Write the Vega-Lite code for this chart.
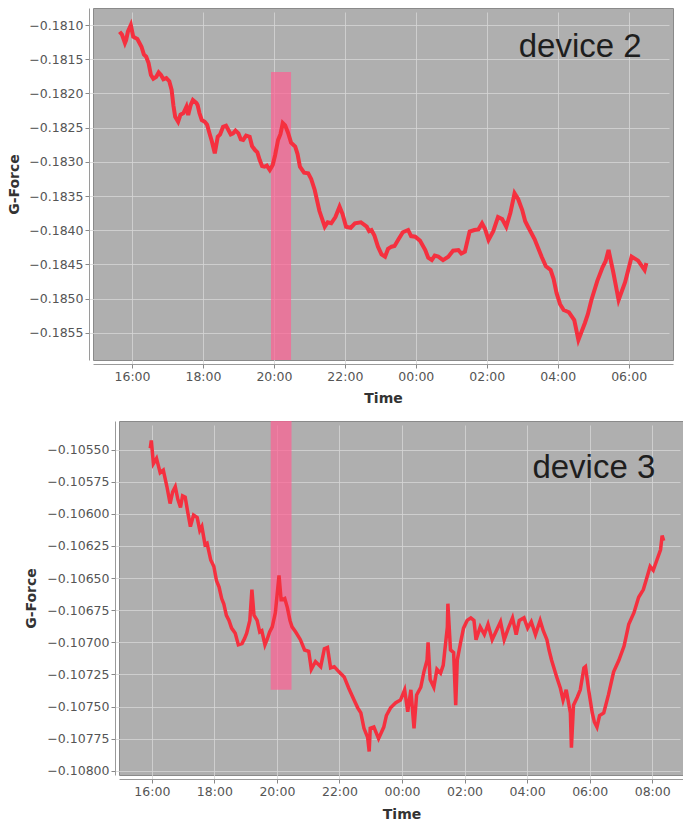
{
  "$schema": "https://vega.github.io/schema/vega-lite/v6.json",
  "padding": {"left": 7, "top": 7, "right": 0, "bottom": 0},
  "config": {
    "view": {"fill": "#afafaf", "stroke": "#8a8a8a"},
    "font": "DejaVu Sans",
    "axis": {
      "labelFont": "DejaVu Sans", "labelFontSize": 12.5, "labelColor": "#555555",
      "titleFont": "DejaVu Sans", "titleFontSize": 14, "titleFontWeight": "bold", "titleColor": "#333333",
      "gridColor": "#d6d6d6", "gridOpacity": 0.8,
      "tickColor": "#888888", "tickSize": 4, "labelPadding": 2,
      "domainColor": "#9a9a9a", "offset": 4, "labelOverlap": false
    }
  },
  "datasets": {
    "dev2": [
      {"t":"2020-01-01T15:39","g":-0.181098},{"t":"2020-01-01T15:43","g":-0.181140},{"t":"2020-01-01T15:48","g":-0.181263},{"t":"2020-01-01T15:50","g":-0.181220},
      {"t":"2020-01-01T15:53","g":-0.181098},{"t":"2020-01-01T15:58","g":-0.181000},{"t":"2020-01-01T16:02","g":-0.181171},{"t":"2020-01-01T16:09","g":-0.181204},
      {"t":"2020-01-01T16:16","g":-0.181317},{"t":"2020-01-01T16:20","g":-0.181430},{"t":"2020-01-01T16:24","g":-0.181463},{"t":"2020-01-01T16:28","g":-0.181557},
      {"t":"2020-01-01T16:32","g":-0.181731},{"t":"2020-01-01T16:36","g":-0.181784},{"t":"2020-01-01T16:41","g":-0.181756},{"t":"2020-01-01T16:45","g":-0.181694},
      {"t":"2020-01-01T16:49","g":-0.181731},{"t":"2020-01-01T16:53","g":-0.181793},{"t":"2020-01-01T16:58","g":-0.181775},{"t":"2020-01-01T17:03","g":-0.181822},
      {"t":"2020-01-01T17:07","g":-0.181950},{"t":"2020-01-01T17:10","g":-0.182176},{"t":"2020-01-01T17:13","g":-0.182341},{"t":"2020-01-01T17:18","g":-0.182414},
      {"t":"2020-01-01T17:22","g":-0.182310},{"t":"2020-01-01T17:27","g":-0.182287},{"t":"2020-01-01T17:32","g":-0.182194},{"t":"2020-01-01T17:35","g":-0.182316},
      {"t":"2020-01-01T17:39","g":-0.182176},{"t":"2020-01-01T17:43","g":-0.182097},{"t":"2020-01-01T17:49","g":-0.182140},{"t":"2020-01-01T17:51","g":-0.182173},
      {"t":"2020-01-01T17:54","g":-0.182287},{"t":"2020-01-01T17:58","g":-0.182390},{"t":"2020-01-01T18:03","g":-0.182414},{"t":"2020-01-01T18:07","g":-0.182458},
      {"t":"2020-01-01T18:11","g":-0.182583},{"t":"2020-01-01T18:15","g":-0.182700},{"t":"2020-01-01T18:20","g":-0.182876},{"t":"2020-01-01T18:25","g":-0.182633},
      {"t":"2020-01-01T18:29","g":-0.182600},{"t":"2020-01-01T18:34","g":-0.182487},{"t":"2020-01-01T18:39","g":-0.182471},{"t":"2020-01-01T18:43","g":-0.182535},
      {"t":"2020-01-01T18:47","g":-0.182599},{"t":"2020-01-01T18:51","g":-0.182583},{"t":"2020-01-01T18:55","g":-0.182543},{"t":"2020-01-01T19:00","g":-0.182583},
      {"t":"2020-01-01T19:04","g":-0.182672},{"t":"2020-01-01T19:08","g":-0.182681},{"t":"2020-01-01T19:13","g":-0.182617},{"t":"2020-01-01T19:19","g":-0.182633},
      {"t":"2020-01-01T19:23","g":-0.182770},{"t":"2020-01-01T19:28","g":-0.182828},{"t":"2020-01-01T19:32","g":-0.182861},{"t":"2020-01-01T19:36","g":-0.182974},
      {"t":"2020-01-01T19:40","g":-0.183063},{"t":"2020-01-01T19:44","g":-0.183072},{"t":"2020-01-01T19:48","g":-0.183056},{"t":"2020-01-01T19:53","g":-0.183120},
      {"t":"2020-01-01T19:58","g":-0.183047},{"t":"2020-01-01T20:02","g":-0.182904},{"t":"2020-01-01T20:07","g":-0.182681},{"t":"2020-01-01T20:11","g":-0.182597},
      {"t":"2020-01-01T20:15","g":-0.182433},{"t":"2020-01-01T20:19","g":-0.182466},{"t":"2020-01-01T20:24","g":-0.182579},{"t":"2020-01-01T20:29","g":-0.182719},
      {"t":"2020-01-01T20:36","g":-0.182779},{"t":"2020-01-01T20:40","g":-0.182886},{"t":"2020-01-01T20:44","g":-0.183072},{"t":"2020-01-01T20:51","g":-0.183160},
      {"t":"2020-01-01T20:58","g":-0.183168},{"t":"2020-01-01T21:03","g":-0.183250},{"t":"2020-01-01T21:09","g":-0.183412},{"t":"2020-01-01T21:17","g":-0.183720},
      {"t":"2020-01-01T21:26","g":-0.183949},{"t":"2020-01-01T21:31","g":-0.183884},{"t":"2020-01-01T21:37","g":-0.183899},{"t":"2020-01-01T21:44","g":-0.183808},
      {"t":"2020-01-01T21:51","g":-0.183656},{"t":"2020-01-01T21:56","g":-0.183763},{"t":"2020-01-01T22:02","g":-0.183949},{"t":"2020-01-01T22:10","g":-0.183964},
      {"t":"2020-01-01T22:17","g":-0.183899},{"t":"2020-01-01T22:27","g":-0.183884},{"t":"2020-01-01T22:37","g":-0.183949},{"t":"2020-01-01T22:41","g":-0.184013},
      {"t":"2020-01-01T22:45","g":-0.183997},{"t":"2020-01-01T22:50","g":-0.184079},{"t":"2020-01-01T22:56","g":-0.184241},{"t":"2020-01-01T23:02","g":-0.184354},
      {"t":"2020-01-01T23:08","g":-0.184387},{"t":"2020-01-01T23:13","g":-0.184274},{"t":"2020-01-01T23:19","g":-0.184241},{"t":"2020-01-01T23:24","g":-0.184232},
      {"t":"2020-01-01T23:30","g":-0.184143},{"t":"2020-01-01T23:38","g":-0.184030},{"t":"2020-01-01T23:47","g":-0.183997},{"t":"2020-01-01T23:52","g":-0.184086},
      {"t":"2020-01-01T23:59","g":-0.184095},{"t":"2020-01-02T00:07","g":-0.184152},{"t":"2020-01-02T00:16","g":-0.184290},{"t":"2020-01-02T00:21","g":-0.184403},
      {"t":"2020-01-02T00:27","g":-0.184436},{"t":"2020-01-02T00:32","g":-0.184372},{"t":"2020-01-02T00:38","g":-0.184387},{"t":"2020-01-02T00:46","g":-0.184437},
      {"t":"2020-01-02T00:55","g":-0.184387},{"t":"2020-01-02T01:03","g":-0.184299},{"t":"2020-01-02T01:12","g":-0.184290},{"t":"2020-01-02T01:17","g":-0.184342},
      {"t":"2020-01-02T01:23","g":-0.184314},{"t":"2020-01-02T01:31","g":-0.184020},{"t":"2020-01-02T01:39","g":-0.183997},{"t":"2020-01-02T01:46","g":-0.183988},
      {"t":"2020-01-02T01:52","g":-0.183899},{"t":"2020-01-02T01:57","g":-0.183981},{"t":"2020-01-02T02:03","g":-0.184143},{"t":"2020-01-02T02:11","g":-0.184015},
      {"t":"2020-01-02T02:19","g":-0.183807},{"t":"2020-01-02T02:26","g":-0.183838},{"t":"2020-01-02T02:33","g":-0.183949},{"t":"2020-01-02T02:40","g":-0.183745},
      {"t":"2020-01-02T02:47","g":-0.183460},{"t":"2020-01-02T02:53","g":-0.183543},{"t":"2020-01-02T03:00","g":-0.183705},{"t":"2020-01-02T03:05","g":-0.183869},
      {"t":"2020-01-02T03:10","g":-0.183953},{"t":"2020-01-02T03:21","g":-0.184132},{"t":"2020-01-02T03:33","g":-0.184392},{"t":"2020-01-02T03:40","g":-0.184527},
      {"t":"2020-01-02T03:48","g":-0.184582},{"t":"2020-01-02T03:53","g":-0.184710},{"t":"2020-01-02T03:58","g":-0.184918},{"t":"2020-01-02T04:04","g":-0.185082},
      {"t":"2020-01-02T04:10","g":-0.185167},{"t":"2020-01-02T04:19","g":-0.185200},{"t":"2020-01-02T04:28","g":-0.185313},{"t":"2020-01-02T04:35","g":-0.185605},
      {"t":"2020-01-02T04:46","g":-0.185357},{"t":"2020-01-02T04:51","g":-0.185229},{"t":"2020-01-02T04:57","g":-0.185021},{"t":"2020-01-02T05:07","g":-0.184740},
      {"t":"2020-01-02T05:16","g":-0.184538},{"t":"2020-01-02T05:21","g":-0.184454},{"t":"2020-01-02T05:26","g":-0.184290},{"t":"2020-01-02T05:34","g":-0.184615},
      {"t":"2020-01-02T05:43","g":-0.185021},{"t":"2020-01-02T05:54","g":-0.184761},{"t":"2020-01-02T06:05","g":-0.184387},{"t":"2020-01-02T06:16","g":-0.184445},
      {"t":"2020-01-02T06:27","g":-0.184582},{"t":"2020-01-02T06:30","g":-0.184480}
    ],
    "dev3": [
      {"t":"2020-01-01T15:57","g":-0.10549},{"t":"2020-01-01T15:59","g":-0.10543},{"t":"2020-01-01T16:03","g":-0.10561},{"t":"2020-01-01T16:09","g":-0.10557},
      {"t":"2020-01-01T16:16","g":-0.10568},{"t":"2020-01-01T16:22","g":-0.10566},{"t":"2020-01-01T16:29","g":-0.10579},{"t":"2020-01-01T16:35","g":-0.10592},
      {"t":"2020-01-01T16:40","g":-0.10583},{"t":"2020-01-01T16:45","g":-0.10579},{"t":"2020-01-01T16:50","g":-0.10589},{"t":"2020-01-01T16:55","g":-0.10595},
      {"t":"2020-01-01T16:59","g":-0.10586},{"t":"2020-01-01T17:04","g":-0.10587},{"t":"2020-01-01T17:09","g":-0.10599},{"t":"2020-01-01T17:14","g":-0.10610},
      {"t":"2020-01-01T17:20","g":-0.10601},{"t":"2020-01-01T17:27","g":-0.10603},{"t":"2020-01-01T17:32","g":-0.10613},{"t":"2020-01-01T17:36","g":-0.10610},
      {"t":"2020-01-01T17:42","g":-0.10624},{"t":"2020-01-01T17:46","g":-0.10623},{"t":"2020-01-01T17:53","g":-0.10636},{"t":"2020-01-01T17:59","g":-0.10641},
      {"t":"2020-01-01T18:04","g":-0.10652},{"t":"2020-01-01T18:09","g":-0.10657},{"t":"2020-01-01T18:14","g":-0.10666},{"t":"2020-01-01T18:18","g":-0.10670},
      {"t":"2020-01-01T18:23","g":-0.10679},{"t":"2020-01-01T18:28","g":-0.10683},{"t":"2020-01-01T18:33","g":-0.10689},{"t":"2020-01-01T18:40","g":-0.10693},
      {"t":"2020-01-01T18:46","g":-0.10702},{"t":"2020-01-01T18:53","g":-0.10701},{"t":"2020-01-01T18:58","g":-0.10697},{"t":"2020-01-01T19:02","g":-0.10693},
      {"t":"2020-01-01T19:08","g":-0.10683},{"t":"2020-01-01T19:12","g":-0.10659},{"t":"2020-01-01T19:16","g":-0.10679},{"t":"2020-01-01T19:22","g":-0.10683},
      {"t":"2020-01-01T19:27","g":-0.10692},{"t":"2020-01-01T19:31","g":-0.10691},{"t":"2020-01-01T19:37","g":-0.10702},{"t":"2020-01-01T19:41","g":-0.10698},
      {"t":"2020-01-01T19:46","g":-0.10692},{"t":"2020-01-01T19:51","g":-0.10688},{"t":"2020-01-01T19:57","g":-0.10677},{"t":"2020-01-01T20:04","g":-0.10648},
      {"t":"2020-01-01T20:08","g":-0.10667},{"t":"2020-01-01T20:10","g":-0.10667},{"t":"2020-01-01T20:15","g":-0.10666},{"t":"2020-01-01T20:20","g":-0.10673},
      {"t":"2020-01-01T20:25","g":-0.10683},{"t":"2020-01-01T20:29","g":-0.10688},{"t":"2020-01-01T20:36","g":-0.10692},{"t":"2020-01-01T20:45","g":-0.10698},
      {"t":"2020-01-01T20:53","g":-0.10706},{"t":"2020-01-01T21:01","g":-0.10707},{"t":"2020-01-01T21:06","g":-0.10721},{"t":"2020-01-01T21:14","g":-0.10715},
      {"t":"2020-01-01T21:24","g":-0.10719},{"t":"2020-01-01T21:31","g":-0.10705},{"t":"2020-01-01T21:37","g":-0.10704},{"t":"2020-01-01T21:43","g":-0.10720},
      {"t":"2020-01-01T21:50","g":-0.10719},{"t":"2020-01-01T21:59","g":-0.10723},{"t":"2020-01-01T22:09","g":-0.10727},{"t":"2020-01-01T22:18","g":-0.10736},
      {"t":"2020-01-01T22:28","g":-0.10745},{"t":"2020-01-01T22:35","g":-0.10751},{"t":"2020-01-01T22:41","g":-0.10755},{"t":"2020-01-01T22:47","g":-0.10767},
      {"t":"2020-01-01T22:54","g":-0.10774},{"t":"2020-01-01T22:57","g":-0.10785},{"t":"2020-01-01T22:59","g":-0.10767},{"t":"2020-01-01T23:06","g":-0.10766},
      {"t":"2020-01-01T23:15","g":-0.10775},{"t":"2020-01-01T23:25","g":-0.10766},{"t":"2020-01-01T23:30","g":-0.10757},{"t":"2020-01-01T23:38","g":-0.10751},
      {"t":"2020-01-01T23:48","g":-0.10747},{"t":"2020-01-01T23:57","g":-0.10745},{"t":"2020-01-02T00:05","g":-0.10737},{"t":"2020-01-02T00:11","g":-0.10754},
      {"t":"2020-01-02T00:17","g":-0.10737},{"t":"2020-01-02T00:23","g":-0.10767},{"t":"2020-01-02T00:28","g":-0.10741},{"t":"2020-01-02T00:36","g":-0.10735},
      {"t":"2020-01-02T00:42","g":-0.10723},{"t":"2020-01-02T00:48","g":-0.10714},{"t":"2020-01-02T00:50","g":-0.10700},{"t":"2020-01-02T00:54","g":-0.10729},
      {"t":"2020-01-02T01:01","g":-0.10735},{"t":"2020-01-02T01:07","g":-0.10721},{"t":"2020-01-02T01:14","g":-0.10724},{"t":"2020-01-02T01:19","g":-0.10718},
      {"t":"2020-01-02T01:27","g":-0.10688},{"t":"2020-01-02T01:28","g":-0.10670},{"t":"2020-01-02T01:33","g":-0.10706},{"t":"2020-01-02T01:39","g":-0.10708},
      {"t":"2020-01-02T01:43","g":-0.10749},{"t":"2020-01-02T01:46","g":-0.10714},{"t":"2020-01-02T01:52","g":-0.10701},{"t":"2020-01-02T01:58","g":-0.10689},
      {"t":"2020-01-02T02:05","g":-0.10683},{"t":"2020-01-02T02:12","g":-0.10681},{"t":"2020-01-02T02:18","g":-0.10683},{"t":"2020-01-02T02:22","g":-0.10698},
      {"t":"2020-01-02T02:30","g":-0.10688},{"t":"2020-01-02T02:38","g":-0.10694},{"t":"2020-01-02T02:45","g":-0.10686},{"t":"2020-01-02T02:53","g":-0.10698},
      {"t":"2020-01-02T03:01","g":-0.10691},{"t":"2020-01-02T03:09","g":-0.10684},{"t":"2020-01-02T03:16","g":-0.10698},{"t":"2020-01-02T03:24","g":-0.10689},
      {"t":"2020-01-02T03:32","g":-0.10681},{"t":"2020-01-02T03:39","g":-0.10694},{"t":"2020-01-02T03:45","g":-0.10683},{"t":"2020-01-02T03:54","g":-0.10681},
      {"t":"2020-01-02T04:01","g":-0.10689},{"t":"2020-01-02T04:08","g":-0.10684},{"t":"2020-01-02T04:16","g":-0.10694},{"t":"2020-01-02T04:25","g":-0.10683},
      {"t":"2020-01-02T04:31","g":-0.10691},{"t":"2020-01-02T04:38","g":-0.10698},{"t":"2020-01-02T04:42","g":-0.10706},{"t":"2020-01-02T04:47","g":-0.10714},
      {"t":"2020-01-02T04:56","g":-0.10726},{"t":"2020-01-02T05:04","g":-0.10736},{"t":"2020-01-02T05:09","g":-0.10745},{"t":"2020-01-02T05:15","g":-0.10737},
      {"t":"2020-01-02T05:23","g":-0.10755},{"t":"2020-01-02T05:25","g":-0.10782},{"t":"2020-01-02T05:29","g":-0.10749},{"t":"2020-01-02T05:36","g":-0.10743},
      {"t":"2020-01-02T05:42","g":-0.10737},{"t":"2020-01-02T05:49","g":-0.10720},{"t":"2020-01-02T05:52","g":-0.10719},{"t":"2020-01-02T05:58","g":-0.10737},
      {"t":"2020-01-02T06:05","g":-0.10755},{"t":"2020-01-02T06:09","g":-0.10762},{"t":"2020-01-02T06:14","g":-0.10766},{"t":"2020-01-02T06:19","g":-0.10757},
      {"t":"2020-01-02T06:27","g":-0.10755},{"t":"2020-01-02T06:36","g":-0.10741},{"t":"2020-01-02T06:46","g":-0.10723},{"t":"2020-01-02T06:56","g":-0.10714},
      {"t":"2020-01-02T07:06","g":-0.10703},{"t":"2020-01-02T07:15","g":-0.10686},{"t":"2020-01-02T07:25","g":-0.10677},{"t":"2020-01-02T07:34","g":-0.10665},
      {"t":"2020-01-02T07:43","g":-0.10659},{"t":"2020-01-02T07:51","g":-0.10648},{"t":"2020-01-02T07:56","g":-0.10641},{"t":"2020-01-02T08:02","g":-0.10644},
      {"t":"2020-01-02T08:09","g":-0.10636},{"t":"2020-01-02T08:16","g":-0.10628},{"t":"2020-01-02T08:19","g":-0.10617},{"t":"2020-01-02T08:22","g":-0.10621}
    ],
    "band2": [{"t":"2020-01-01T19:55","t2":"2020-01-01T20:29","g":-0.181687,"g2":-0.185898}],
    "band3": [{"t":"2020-01-01T19:48","t2":"2020-01-01T20:28","g":-0.105278,"g2":-0.10737}],
    "lab2": [{"t":"2020-01-02T06:22","g":-0.181468,"label":"device 2"}],
    "lab3": [{"t":"2020-01-02T08:06","g":-0.105723,"label":"device 3"}]
  },
  "vconcat": [
    {
      "width": 580,
      "height": 352,
      "layer": [
        {
          "data": {"name": "band2"},
          "mark": {"type": "rect", "color": "#ff5f93", "opacity": 0.7, "clip": true},
          "encoding": {
            "x": {"field": "t", "type": "temporal",
              "scale": {"domain": [{"year": 2020, "month": 1, "date": 1, "hours": 14, "minutes": 54}, {"year": 2020, "month": 1, "date": 2, "hours": 7, "minutes": 15}]},
              "axis": {"title": "Time", "format": "%H:%M", "titlePadding": 9,
                "values": [
                  {"year": 2020, "month": 1, "date": 1, "hours": 16}, {"year": 2020, "month": 1, "date": 1, "hours": 18},
                  {"year": 2020, "month": 1, "date": 1, "hours": 20}, {"year": 2020, "month": 1, "date": 1, "hours": 22},
                  {"year": 2020, "month": 1, "date": 2, "hours": 0}, {"year": 2020, "month": 1, "date": 2, "hours": 2},
                  {"year": 2020, "month": 1, "date": 2, "hours": 4}, {"year": 2020, "month": 1, "date": 2, "hours": 6}
                ]}},
            "x2": {"field": "t2"},
            "y": {"field": "g", "type": "quantitative", "scale": {"domain": [-0.185898, -0.180751], "zero": false, "nice": false}, "axis": {"title": "G-Force", "tickCount": 20, "values": [-0.181, -0.1815, -0.182, -0.1825, -0.183, -0.1835, -0.184, -0.1845, -0.185, -0.1855], "format": ".4f", "titlePadding": 7}},
            "y2": {"field": "g2"}
          }
        },
        {
          "data": {"name": "dev2"},
          "mark": {"type": "line", "color": "#f5303f", "strokeWidth": 4, "clip": true},
          "encoding": {
            "x": {"field": "t", "type": "temporal"},
            "y": {"field": "g", "type": "quantitative"}
          }
        },
        {
          "data": {"name": "lab2"},
          "mark": {"type": "text", "font": "Liberation Sans", "fontSize": 33, "align": "right", "baseline": "alphabetic", "color": "#1e1e1e"},
          "encoding": {
            "x": {"field": "t", "type": "temporal"},
            "y": {"field": "g", "type": "quantitative"},
            "text": {"field": "label"}
          }
        }
      ]
    },
    {
      "hconcat": [
        {
          "width": 26,
          "height": 354,
          "view": {"fill": null, "stroke": null},
          "data": {"name": "lab3"},
          "mark": {"type": "text", "opacity": 0},
          "encoding": {"text": {"field": "label"}}
        },
        {
          "width": 565,
          "height": 354,
          "layer": [
            {
              "data": {"name": "band3"},
              "mark": {"type": "rect", "color": "#ff5f93", "opacity": 0.7, "clip": true},
              "encoding": {
                "x": {"field": "t", "type": "temporal",
                  "scale": {"domain": [{"year": 2020, "month": 1, "date": 1, "hours": 14, "minutes": 57}, {"year": 2020, "month": 1, "date": 2, "hours": 9, "minutes": 1}]},
                  "axis": {"title": "Time", "format": "%H:%M", "titlePadding": 10,
                    "values": [
                      {"year": 2020, "month": 1, "date": 1, "hours": 16}, {"year": 2020, "month": 1, "date": 1, "hours": 18},
                      {"year": 2020, "month": 1, "date": 1, "hours": 20}, {"year": 2020, "month": 1, "date": 1, "hours": 22},
                      {"year": 2020, "month": 1, "date": 2, "hours": 0}, {"year": 2020, "month": 1, "date": 2, "hours": 2},
                      {"year": 2020, "month": 1, "date": 2, "hours": 4}, {"year": 2020, "month": 1, "date": 2, "hours": 6},
                      {"year": 2020, "month": 1, "date": 2, "hours": 8}
                    ]}},
                "x2": {"field": "t2"},
                "y": {"field": "g", "type": "quantitative", "scale": {"domain": [-0.108033, -0.105278], "zero": false, "nice": false}, "axis": {"title": "G-Force", "tickCount": 20, "values": [-0.1055, -0.10575, -0.106, -0.10625, -0.1065, -0.10675, -0.107, -0.10725, -0.1075, -0.10775, -0.108], "format": ".5f", "titlePadding": 8}},
                "y2": {"field": "g2"}
              }
            },
            {
              "data": {"name": "dev3"},
              "mark": {"type": "line", "color": "#f5303f", "strokeWidth": 3.5, "clip": true},
              "encoding": {
                "x": {"field": "t", "type": "temporal"},
                "y": {"field": "g", "type": "quantitative"}
              }
            },
            {
              "data": {"name": "lab3"},
              "mark": {"type": "text", "font": "Liberation Sans", "fontSize": 33, "align": "right", "baseline": "alphabetic", "color": "#1e1e1e"},
              "encoding": {
                "x": {"field": "t", "type": "temporal"},
                "y": {"field": "g", "type": "quantitative"},
                "text": {"field": "label"}
              }
            }
          ]
        }
      ],
      "spacing": 0,
      "bounds": "flush"
    }
  ],
  "spacing": 14
}
